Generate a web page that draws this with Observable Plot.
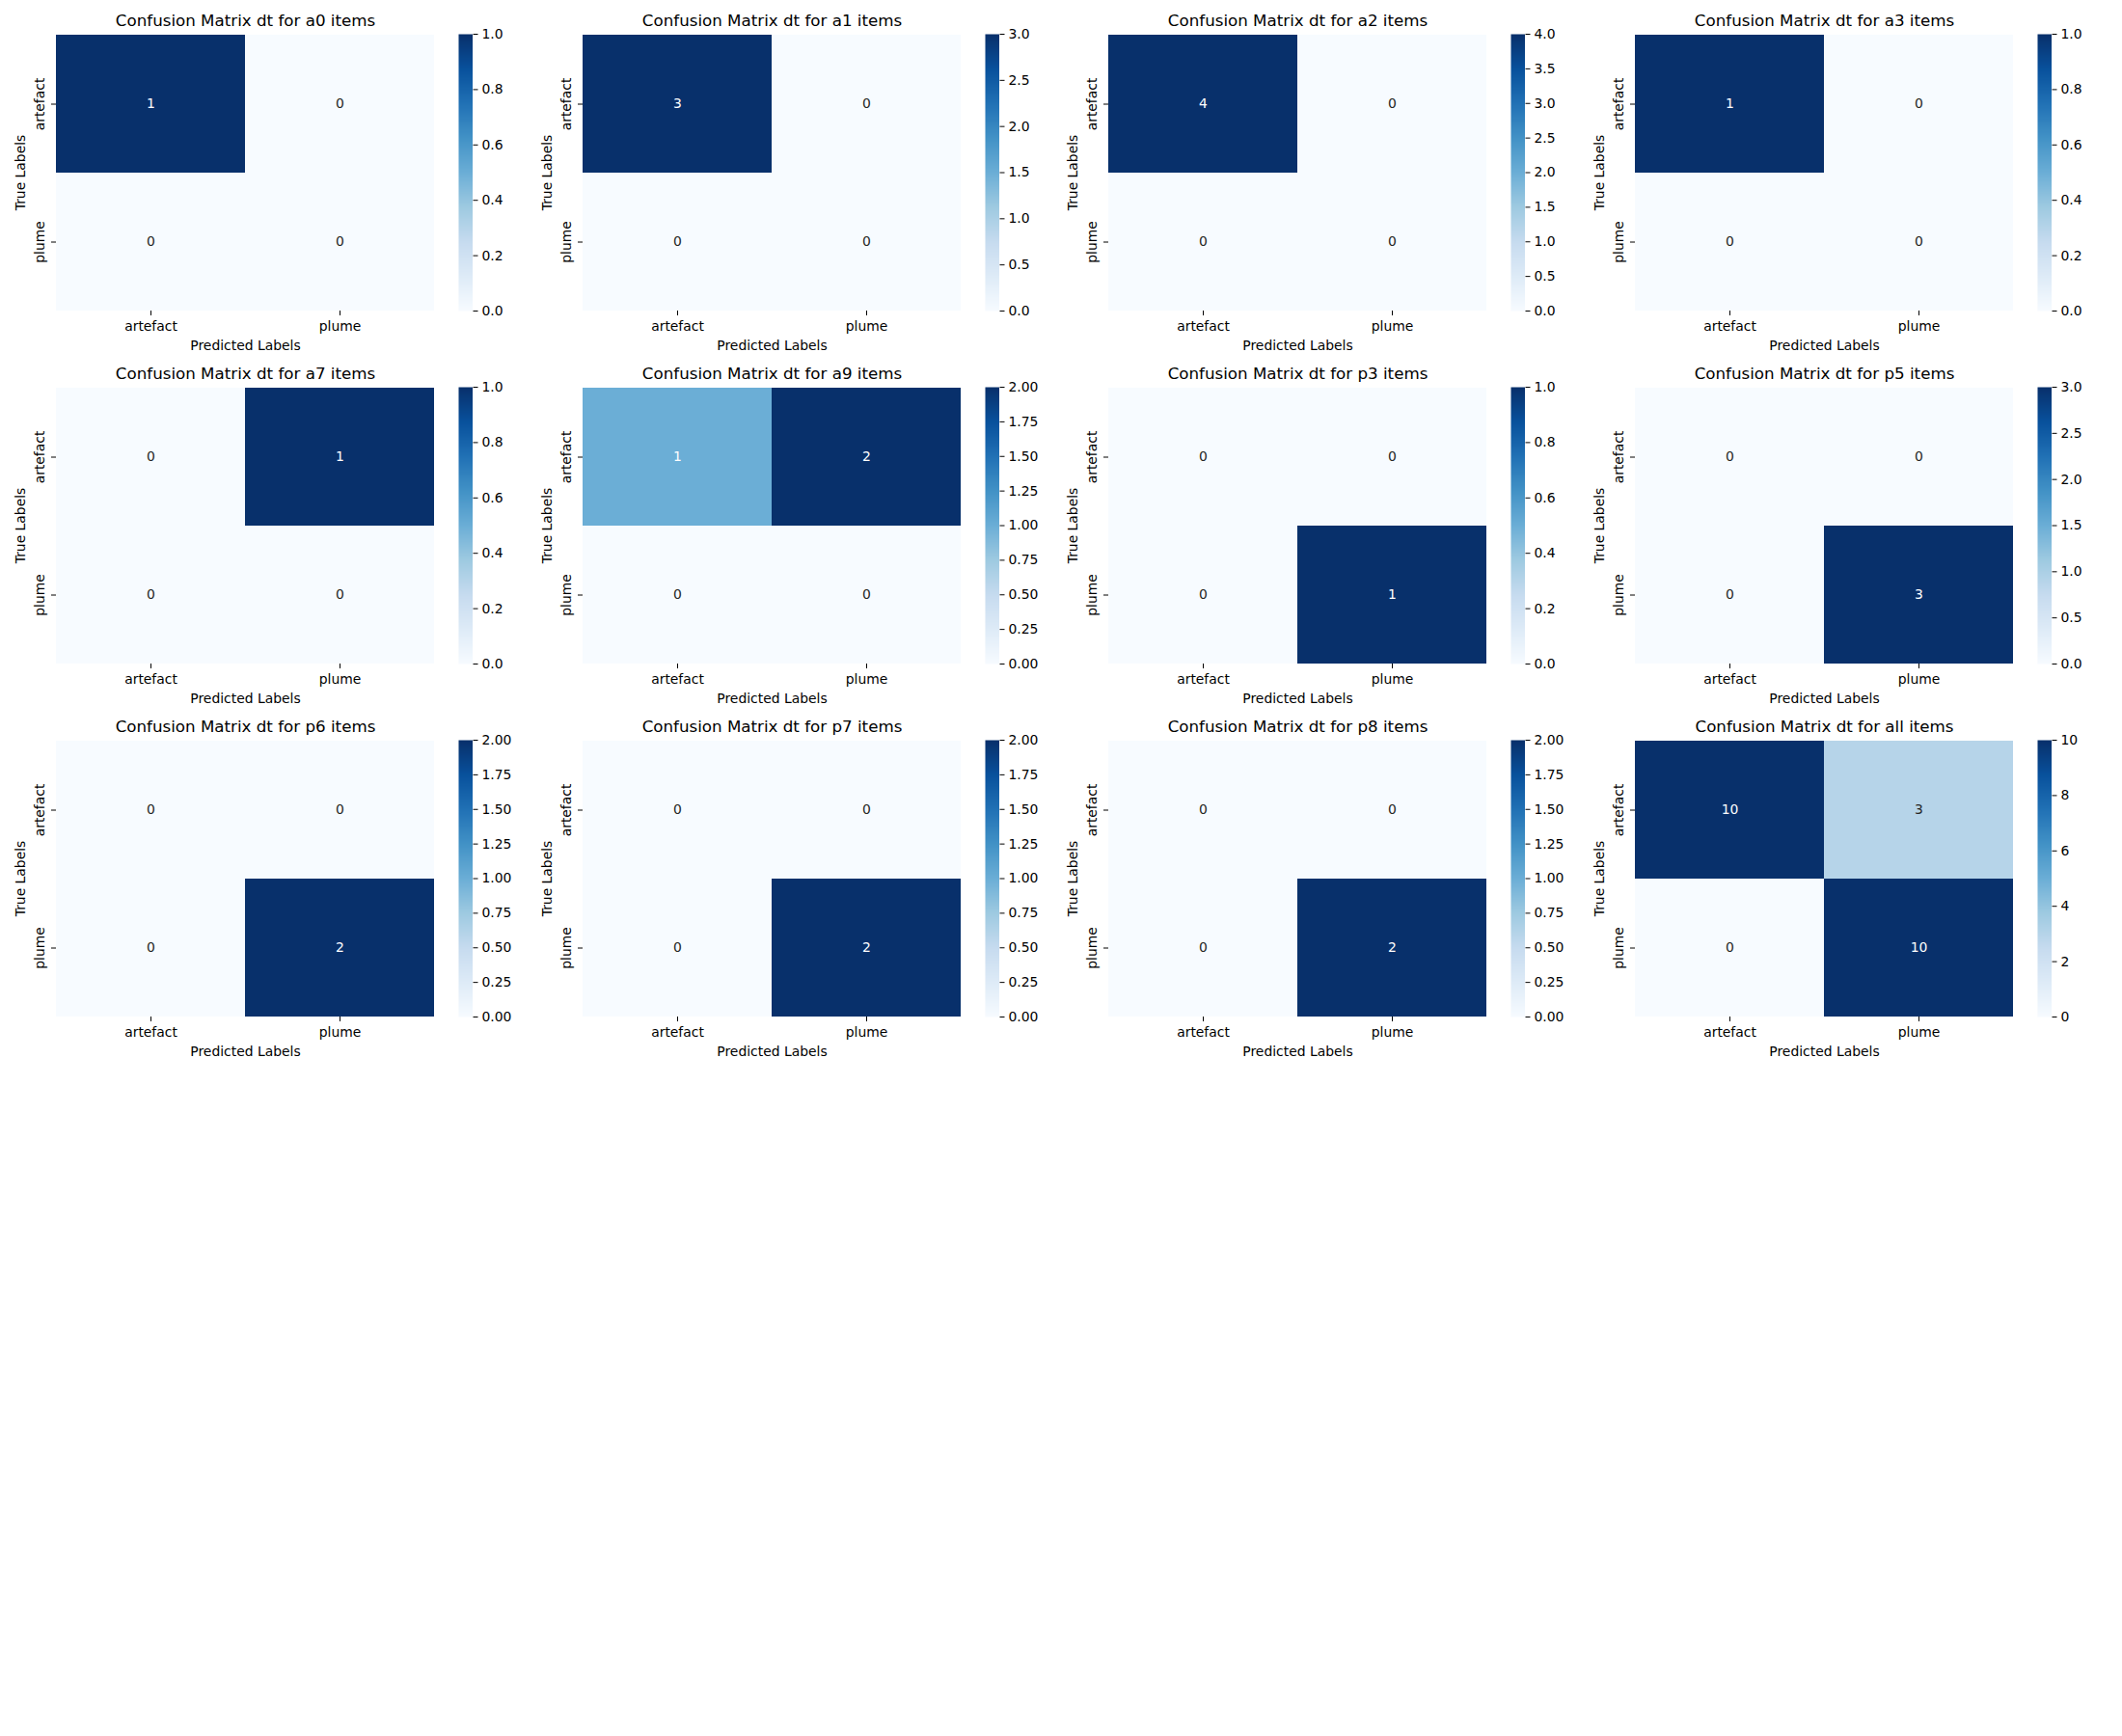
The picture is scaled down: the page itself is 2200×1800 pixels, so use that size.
<!DOCTYPE html>
<html>
<head>
<meta charset="utf-8">
<script src="https://cdn.jsdelivr.net/npm/d3@7"></script>
<script src="https://cdn.jsdelivr.net/npm/@observablehq/plot@0.6"></script>
<style>
  html, body { margin: 0; padding: 0; background: #fff; }
  #fig { position: relative; width: 2200px; height: 1800px; background: #fff; overflow: hidden; }
  #fig > svg { position: absolute; }
</style>
</head>
<body>
<div id="fig"></div>
<script>
// ---- data ----
const classLabels = ["artefact", "plume"];
const panelNames = ["a0", "a1", "a2", "a3", "a7", "a9", "p3", "p5", "p6", "p7", "p8", "all"];
// each matrix: rows = true label, columns = predicted label
const m_a0 = [[1, 0], [0, 0]];
const m_a1 = [[3, 0], [0, 0]];
const m_a2 = [[4, 0], [0, 0]];
const m_a3 = [[1, 0], [0, 0]];
const m_a7 = [[0, 1], [0, 0]];
const m_a9 = [[1, 2], [0, 0]];
const m_p3 = [[0, 0], [0, 1]];
const m_p5 = [[0, 0], [0, 3]];
const m_p6 = [[0, 0], [0, 2]];
const m_p7 = [[0, 0], [0, 2]];
const m_p8 = [[0, 0], [0, 2]];
const m_all = [[10, 3], [0, 10]];
const matrices = [m_a0, m_a1, m_a2, m_a3, m_a7, m_a9, m_p3, m_p5, m_p6, m_p7, m_p8, m_all];

// colorbar tick labels by max value
const ticksMax1 = ["0.0", "0.2", "0.4", "0.6", "0.8", "1.0"];
const ticksMax2 = ["0.00", "0.25", "0.50", "0.75", "1.00", "1.25", "1.50", "1.75", "2.00"];
const ticksMax3 = ["0.0", "0.5", "1.0", "1.5", "2.0", "2.5", "3.0"];
const ticksMax4 = ["0.0", "0.5", "1.0", "1.5", "2.0", "2.5", "3.0", "3.5", "4.0"];
const ticksMax10 = ["0", "2", "4", "6", "8", "10"];

// ---- style ----
const BLUES = ["#f7fbff", "#deebf7", "#c6dbef", "#9ecae1", "#6baed6", "#4292c6", "#2171b5", "#08519c", "#08306b"];
const FONT = "DejaVu Sans, Verdana, sans-serif";
const FS = 13.9;     // 10pt at 100dpi
const TFS = 16.7;    // 12pt
const HM_W = 392, HM_H = 287;
const COL0 = 58, COL_PITCH = 545.5;
const ROW0 = 34.7, ROW_PITCH = 366.15;
const NCOL = 4;

const fig = document.getElementById("fig");

function tickLabelsFor(max) {
  if (max === 1) return ticksMax1;
  if (max === 2) return ticksMax2;
  if (max === 3) return ticksMax3;
  if (max === 4) return ticksMax4;
  return ticksMax10;
}

function colorOpts(max) {
  return {type: "linear", domain: BLUES.map((_, i) => max * i / (BLUES.length - 1)), range: BLUES};
}

const mid = {textAnchor: "middle", lineAnchor: "middle", fill: "#000", fontSize: FS};

panelNames.forEach((name, k) => {
  const mat = matrices[k];
  const cells = [];
  mat.forEach((row, i) => row.forEach((v, j) => cells.push({true: classLabels[i], pred: classLabels[j], value: v})));
  const vmax = d3.max(cells, d => d.value);
  const vmin = d3.min(cells, d => d.value);
  const isDark = d => (d.value - vmin) / (vmax - vmin) >= 0.45;

  const col = k % NCOL, row = Math.floor(k / NCOL);
  const L = COL0 + COL_PITCH * col;
  const T = ROW0 + ROW_PITCH * row;

  const mL = 58, mT = 35, mR = 5, mB = 50;
  const hm = Plot.plot({
    width: mL + HM_W + mR, height: mT + HM_H + mB,
    marginLeft: mL, marginRight: mR, marginTop: mT, marginBottom: mB,
    style: {fontFamily: FONT, fontSize: FS + "px", color: "#000", background: "transparent", overflow: "visible"},
    x: {type: "band", domain: classLabels, padding: 0, label: null, tickSize: 5, tickFormat: () => ""},
    y: {type: "band", domain: classLabels, padding: 0, label: null, tickSize: 5, tickFormat: () => ""},
    color: colorOpts(vmax),
    marks: [
      Plot.cell(cells, {x: "pred", y: "true", fill: "value", inset: 0}),
      Plot.text(cells, {filter: d => isDark(d), x: "pred", y: "true", text: d => String(d.value), ...mid, fill: "white"}),
      Plot.text(cells, {filter: d => !isDark(d), x: "pred", y: "true", text: d => String(d.value), ...mid, fill: "#262626"}),
      Plot.text(classLabels, {x: d => d, frameAnchor: "bottom", dy: 16.5, text: d => d, ...mid}),
      Plot.text(classLabels, {y: d => d, frameAnchor: "left", dx: -16.5, rotate: -90, text: d => d, ...mid}),
      Plot.text(["Predicted Labels"], {frameAnchor: "bottom", dy: 36, text: d => d, ...mid}),
      Plot.text(["True Labels"], {frameAnchor: "left", dx: -36.5, rotate: -90, text: d => d, ...mid}),
      Plot.text([`Confusion Matrix dt for ${name} items`], {frameAnchor: "top", dy: -13.5, text: d => d, ...mid, fontSize: TFS})
    ]
  });
  hm.style.left = (L - mL) + "px";
  hm.style.top = (T - mT) + "px";
  fig.appendChild(hm);

  // colorbar
  const labs = tickLabelsFor(vmax);
  const vals = labs.map(Number);
  const labByVal = new Map(vals.map((v, i) => [v, labs[i]]));
  const cbW = 14.5, cT = 10, cB = 10, cR = 70;
  const cb = Plot.plot({
    width: cbW + cR, height: cT + HM_H + cB,
    marginLeft: 0, marginRight: cR, marginTop: cT, marginBottom: cB,
    style: {fontFamily: FONT, fontSize: FS + "px", color: "#000", background: "transparent", overflow: "visible"},
    x: {domain: [0, 1], axis: null},
    y: {domain: [vmin, vmax], axis: "right", ticks: vals, tickFormat: d => labByVal.get(d) ?? "", tickSize: 5, tickPadding: 4.5, label: null},
    color: colorOpts(vmax),
    marks: [
      Plot.raster({x1: 0, x2: 1, y1: vmin, y2: vmax, width: 1, height: 287, fill: (x, y) => y, imageRendering: "auto"})
    ]
  });
  cb.style.left = (L + 417) + "px";
  cb.style.top = (T - cT) + "px";
  fig.appendChild(cb);
});
</script>
</body>
</html>
